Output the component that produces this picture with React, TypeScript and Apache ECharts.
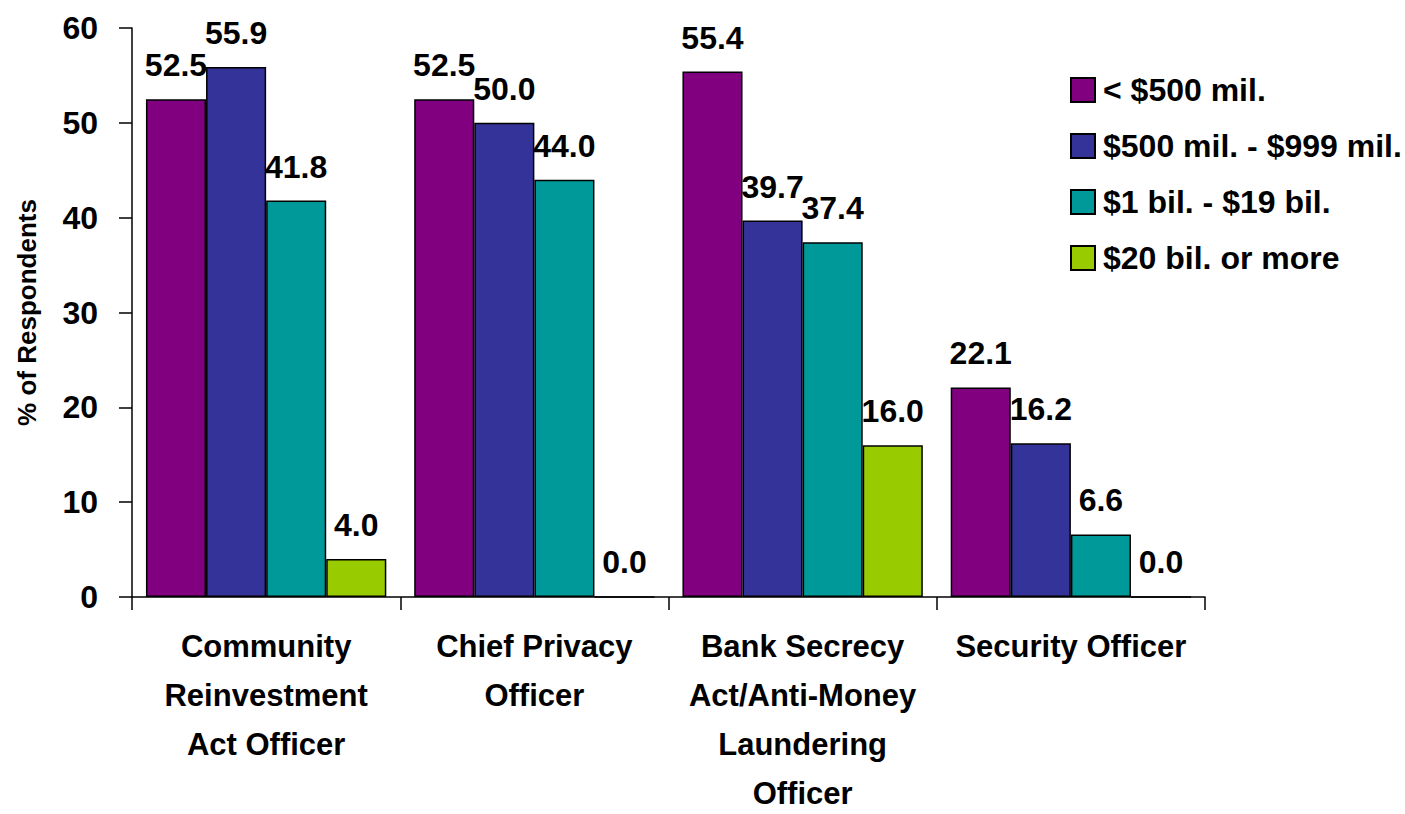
import React, { useEffect, useRef } from "react";
import * as echarts from "echarts";

const categories = [
  "Community\nReinvestment\nAct Officer",
  "Chief Privacy\nOfficer",
  "Bank Secrecy\nAct/Anti-Money\nLaundering\nOfficer",
  "Security Officer",
];
const seriesNames = ["< $500 mil.", "$500 mil. - $999 mil.", "$1 bil. - $19 bil.", "$20 bil. or more"];
const under500 = [52.5, 52.5, 55.4, 22.1];
const mid500to999 = [55.9, 50.0, 39.7, 16.2];
const bil1to19 = [41.8, 44.0, 37.4, 6.6];
const bil20plus = [4.0, 0.0, 16.0, 0.0];
const yTicks = [0, 10, 20, 30, 40, 50, 60];

const colors = ["#800080", "#333399", "#009999", "#99CC00"];
const FONT = '"Liberation Sans", Arial, Helvetica, sans-serif';

export default function App() {
  const ref = useRef<HTMLDivElement>(null);
  useEffect(() => {
    document.body.style.margin = "0";
    const chart = echarts.init(ref.current!, null, { renderer: "svg" });
    const data = [under500, mid500to999, bil1to19, bil20plus];
    chart.setOption({
      animation: false,
      textStyle: { fontFamily: FONT },
      grid: { left: 132, right: 200, top: 28, bottom: 217, containLabel: false, outerBoundsMode: "none" },
      legend: {
        orient: "vertical",
        left: 1065,
        top: 69,
        itemWidth: 24,
        itemHeight: 24,
        itemGap: 24,
        icon: "rect",
        data: seriesNames,
        textStyle: {
          fontFamily: FONT,
          fontWeight: "bold",
          fontSize: 32,
          lineHeight: 32,
          color: "#000",
          padding: [0, 0, 0, 3],
        },
      },
      xAxis: {
        type: "category",
        data: categories,
        axisLine: { lineStyle: { color: "#000", width: 1.5 } },
        axisTick: { show: true, length: 13, lineStyle: { color: "#000", width: 1.5 } },
        axisLabel: {
          interval: 0,
          margin: 30,
          fontFamily: FONT,
          fontWeight: "bold",
          fontSize: 31,
          lineHeight: 49,
          color: "#000",
          align: "center",
          verticalAlign: "top",
          padding: [-5, 0, 0, 0],
        },
      },
      yAxis: {
        type: "value",
        min: yTicks[0],
        max: yTicks[yTicks.length - 1],
        interval: 10,
        name: "% of Respondents",
        nameLocation: "middle",
        nameGap: 92,
        nameRotate: 90,
        nameTextStyle: { fontFamily: FONT, fontWeight: "bold", fontSize: 26, color: "#000" },
        splitLine: { show: false },
        axisLine: { show: true, lineStyle: { color: "#000", width: 1.5 } },
        axisTick: { show: true, length: 13, lineStyle: { color: "#000", width: 1.5 } },
        axisLabel: {
          margin: 34,
          fontFamily: FONT,
          fontWeight: "bold",
          fontSize: 32,
          color: "#000",
        },
      },
      series: seriesNames.map((name, i) => ({
        name,
        type: "bar",
        data: data[i],
        barGap: "0%",
        barCategoryGap: "10.4%",
        itemStyle: { color: colors[i], borderColor: "#000", borderWidth: 1.5 },
        label: {
          show: true,
          position: "top",
          distance: 18,
          formatter: (p: any) => Number(p.value).toFixed(1),
          fontFamily: FONT,
          fontWeight: "bold",
          fontSize: 32,
          color: "#000",
        },
      })),
    });
    return () => chart.dispose();
  }, []);
  return <div ref={ref} style={{ width: 1405, height: 814 }} />;
}
